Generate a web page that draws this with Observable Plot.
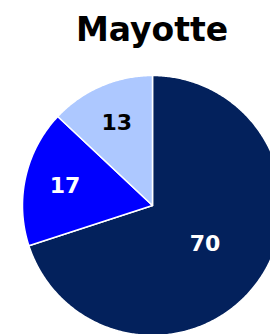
<!DOCTYPE html>
<html>
<head>
<meta charset="utf-8">
<script src="https://cdn.jsdelivr.net/npm/d3@7"></script>
<script src="https://cdn.jsdelivr.net/npm/@observablehq/plot@0.6"></script>
<style>
  html, body { margin: 0; padding: 0; background: #fff; overflow: hidden; }
  #fig { width: 304px; }
  #title { height: 60px; line-height: 60px; text-align: center; font-family: "DejaVu Sans", sans-serif; font-weight: bold; font-size: 33px; color: #000; }
</style>
</head>
<body>
<div id="fig">
  <div id="title"></div>
  <div id="chart"></div>
</div>
<script>
const title = "Mayotte";
const categories = ["A", "B", "C"];
const values = [70, 17, 13];
const colors = ["#03215c", "#0000ff", "#adc8ff"];
const labelColors = ["#ffffff", "#ffffff", "#000000"];

document.getElementById("title").textContent = title;

const total = d3.sum(values);
let start = 0;
const slices = values.map((v, i) => {
  const a0 = start / total * 2 * Math.PI;
  const a1 = (start + v) / total * 2 * Math.PI;
  start += v;
  const pts = [{x: 0, y: 0}];
  const n = Math.max(4, Math.ceil((a1 - a0) / 0.01));
  for (let k = 0; k <= n; k++) {
    const a = a0 + (a1 - a0) * k / n;
    pts.push({x: Math.sin(a), y: Math.cos(a)});
  }
  const mid = (a0 + a1) / 2;
  const lr = v / total > 0.5 ? 0.5 : 0.69;
  return {cat: categories[i], value: v, color: colors[i], labelColor: labelColors[i], pts,
          lx: lr * Math.sin(mid), ly: lr * Math.cos(mid)};
});

const W = 304, H = 290;
const chart = Plot.plot({
  width: W, height: H,
  marginLeft: 22, marginRight: 22, marginTop: 15, marginBottom: 15,
  x: {domain: [-1, 1], axis: null},
  y: {domain: [-1, 1], axis: null},
  style: {background: "transparent", overflow: "visible"},
  marks: [
    ...slices.map(s => Plot.line(s.pts, {x: "x", y: "y", curve: "linear-closed", fill: s.color, stroke: "#ffffff", strokeWidth: 1.5, strokeLinejoin: "round"})),
    Plot.text(slices, {x: "lx", y: "ly", text: d => String(d.value), fill: d => d.labelColor, fontSize: 22, fontWeight: "bold", fontFamily: "DejaVu Sans, sans-serif"})
  ]
});
document.getElementById("chart").appendChild(chart);
</script>
</body>
</html>
